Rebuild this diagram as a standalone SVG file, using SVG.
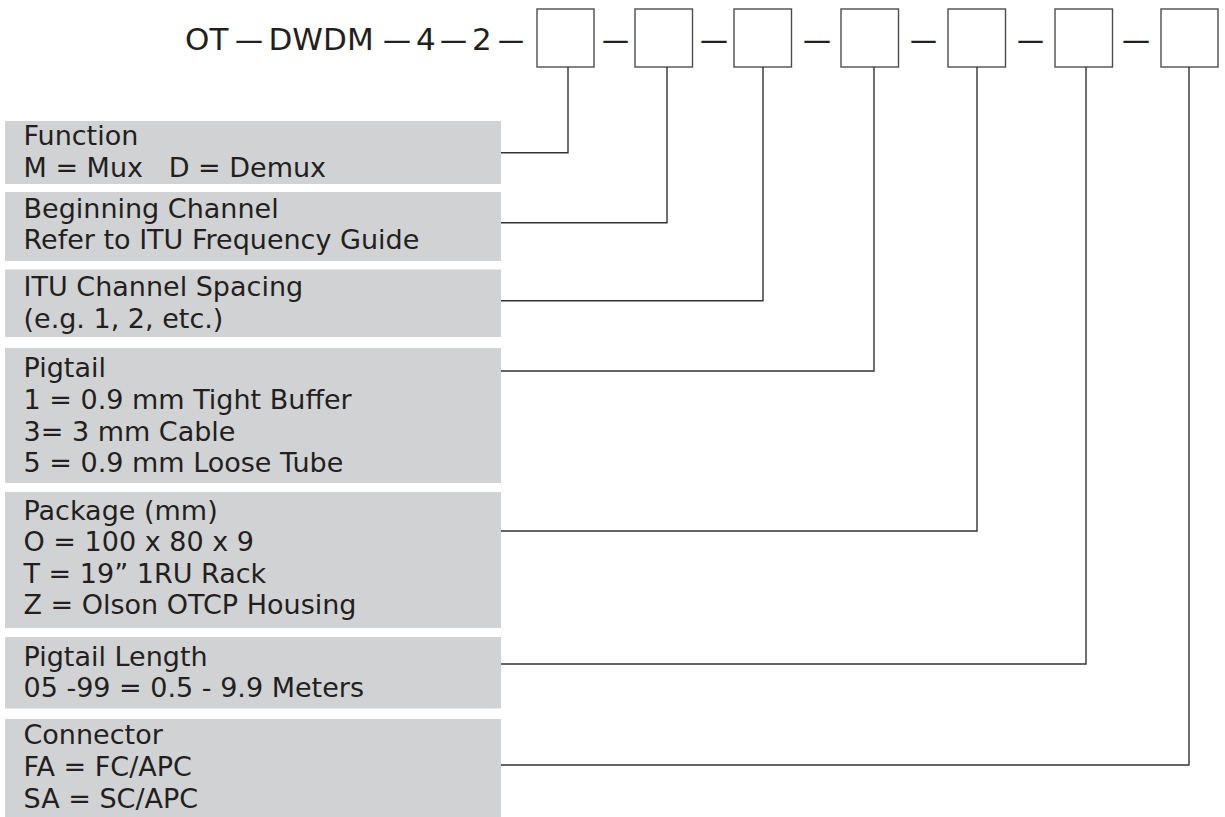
<svg xmlns="http://www.w3.org/2000/svg" width="1225" height="817" viewBox="0 0 1225 817">
<style>
.bg{fill:#d1d2d4}
.t{font-family:"DejaVu Sans",Verdana,sans-serif;font-size:27px;fill:#231f20}
.h{font-family:"DejaVu Sans",Verdana,sans-serif;font-size:31px;fill:#231f20}
.box{fill:#fff;stroke:#4d4d4d;stroke-width:1.4}
.c{fill:none;stroke:#333;stroke-width:1.4}
</style>
<rect width="1225" height="817" fill="#fff"/>
<g id="header">
<text class="h" y="50"><tspan x="185">OT</tspan><tspan x="268.5">DWDM</tspan><tspan x="416">4</tspan><tspan x="472">2</tspan></text>
<g class="h">
<text x="235" y="50" textLength="28" lengthAdjust="spacingAndGlyphs">—</text>
<text x="383" y="50" textLength="28" lengthAdjust="spacingAndGlyphs">—</text>
<text x="440" y="50" textLength="27" lengthAdjust="spacingAndGlyphs">—</text>
<text x="498" y="50" textLength="26" lengthAdjust="spacingAndGlyphs">—</text>
<text x="602" y="50" textLength="27" lengthAdjust="spacingAndGlyphs">—</text>
<text x="700" y="50" textLength="28" lengthAdjust="spacingAndGlyphs">—</text>
<text x="803" y="50" textLength="28" lengthAdjust="spacingAndGlyphs">—</text>
<text x="910" y="50" textLength="27" lengthAdjust="spacingAndGlyphs">—</text>
<text x="1017" y="50" textLength="27" lengthAdjust="spacingAndGlyphs">—</text>
<text x="1122" y="50" textLength="28" lengthAdjust="spacingAndGlyphs">—</text>
</g>
</g>
<g id="box1"><rect class="box" x="537" y="9" width="57" height="58"/></g>
<g id="box2"><rect class="box" x="635" y="9" width="57.5" height="58"/></g>
<g id="box3"><rect class="box" x="734" y="9" width="57.5" height="58"/></g>
<g id="box4"><rect class="box" x="841" y="9" width="57.5" height="58"/></g>
<g id="box5"><rect class="box" x="948" y="9" width="57.5" height="58"/></g>
<g id="box6"><rect class="box" x="1055" y="9" width="57.5" height="58"/></g>
<g id="box7"><rect class="box" x="1161" y="9" width="57" height="58"/></g>
<g id="connectors">
<polyline class="c" points="501,152.7 568,152.7 568,67"/>
<polyline class="c" points="501,222.7 667,222.7 667,67"/>
<polyline class="c" points="501,300.7 763,300.7 763,67"/>
<polyline class="c" points="501,371 874,371 874,67"/>
<polyline class="c" points="501,531 977,531 977,67"/>
<polyline class="c" points="501,664 1086,664 1086,67"/>
<polyline class="c" points="501,765 1189,765 1189,67"/>
</g>
<g id="function">
<rect class="bg" x="5" y="121" width="496" height="63"/>
<text class="t" x="23.5" y="145">Function</text>
<text class="t" x="23.5" y="176.7" xml:space="preserve">M = Mux   D = Demux</text>
</g>
<g id="beginning-channel">
<rect class="bg" x="5" y="192" width="496" height="69"/>
<text class="t" x="23.5" y="217.5">Beginning Channel</text>
<text class="t" x="23.5" y="249">Refer to ITU Frequency Guide</text>
</g>
<g id="itu-spacing">
<rect class="bg" x="5" y="269.5" width="496" height="67.5"/>
<text class="t" x="23.5" y="296">ITU Channel Spacing</text>
<text class="t" x="23.5" y="327.5">(e.g. 1, 2, etc.)</text>
</g>
<g id="pigtail">
<rect class="bg" x="5" y="348" width="496" height="135"/>
<text class="t" x="23.5" y="377">Pigtail</text>
<text class="t" x="23.5" y="409">1 = 0.9 mm Tight Buffer</text>
<text class="t" x="23.5" y="440.5">3= 3 mm Cable</text>
<text class="t" x="23.5" y="472">5 = 0.9 mm Loose Tube</text>
</g>
<g id="package">
<rect class="bg" x="5" y="492" width="496" height="136"/>
<text class="t" x="23.5" y="519.5">Package (mm)</text>
<text class="t" x="23.5" y="551">O = 100 x 80 x 9</text>
<text class="t" x="23.5" y="582.5">T = 19” 1RU Rack</text>
<text class="t" x="23.5" y="614">Z = Olson OTCP Housing</text>
</g>
<g id="pigtail-length">
<rect class="bg" x="5" y="637" width="496" height="71.5"/>
<text class="t" x="23.5" y="665.5">Pigtail Length</text>
<text class="t" x="23.5" y="697">05 -99 = 0.5 - 9.9 Meters</text>
</g>
<g id="connector">
<rect class="bg" x="5" y="719" width="496" height="98"/>
<text class="t" x="23.5" y="744">Connector</text>
<text class="t" x="23.5" y="776">FA = FC/APC</text>
<text class="t" x="23.5" y="807.5">SA = SC/APC</text>
</g>
</svg>
